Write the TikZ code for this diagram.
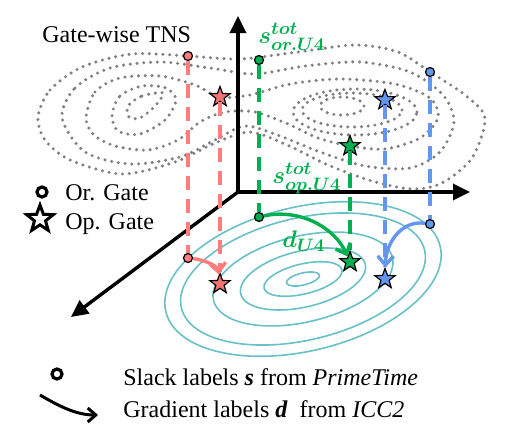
\documentclass[tikz,border=0pt]{standalone}
\usepackage{fontspec}
\setmainfont{Liberation Serif}
\usepackage{amsmath}
\usepackage{bm}
\usetikzlibrary{arrows.meta,shapes.geometric,positioning}
\definecolor{gsred}{RGB}{255,125,125}
\definecolor{gsredfill}{RGB}{242,115,115}
\definecolor{gsgreen}{RGB}{0,176,80}
\definecolor{gsblue}{RGB}{100,150,238}
\definecolor{gsteal}{RGB}{105,192,198}
\definecolor{gsgray}{RGB}{128,128,128}
\tikzset{
  orgate/.style={circle, draw=black, line width=0.6pt, inner sep=0pt, minimum size=4.5pt},
  opgate/.style={star, star points=5, star point ratio=2.4, draw=black, line width=0.6pt, inner sep=0pt, minimum size=10.5pt},
  legcircle/.style={orgate, line width=1.6pt, fill=white, minimum size=5pt},
  slackline/.style={line width=1.7pt, dash pattern=on 7pt off 4.5pt},
  gradarrow/.style={line width=1.7pt, -{Straight Barb[length=4.5pt,width=8pt]}},
  axisline/.style={line width=1.7pt, -{Triangle[length=8.5pt,width=8pt]}},
  tnscontour/.style={gsgray, line width=1.7pt, line cap=round, dash pattern=on 0pt off 3.4pt},
  icccontour/.style={gsteal, line width=0.8pt},
  lbl/.style={font=\fontsize{12}{14}\selectfont, inner sep=0pt, anchor=base west},
  glbl/.style={gsgreen, font=\fontsize{12.5}{14}\selectfont, inner sep=0pt, anchor=base west}
}
\begin{document}
\begin{tikzpicture}[x=0.5pt,y=-0.5pt]
\useasboundingbox (0,0) rectangle (531,439);
% ICC2 landscape
\foreach \rx/\ry in {8.5/3,20/7.5,32/14,46/21.5,62.5/30.5,70.5/36}{
  \draw[icccontour,rotate around={13.4:(303,279)}] (303,279) ellipse [x radius=\rx pt, y radius=\ry pt];
}
% TNS landscape
\draw[tnscontour] plot[smooth cycle] coordinates {(38,117) (50,90) (82,67) (132,54) (188,56) (240,59) (298,52) (355,45) (398,52) (430,72) (465,95) (485,118) (472,158) (442,183) (412,189) (372,181) (328,165) (287,145) (250,132) (215,143) (175,162) (122,174) (70,160) (45,140)};
\draw[tnscontour] plot[smooth cycle] coordinates {(62,118) (75,88) (110,68) (160,62) (210,68) (255,74) (305,66) (360,62) (410,72) (443,95) (454,122) (440,152) (410,168) (365,166) (320,152) (280,136) (245,126) (215,140) (180,157) (130,164) (85,152)};
\draw[tnscontour] plot[smooth cycle] coordinates {(86,118) (95,92) (120,78) (160,76) (195,85) (220,97) (250,95) (290,84) (340,79) (395,84) (430,98) (438,118) (420,138) (385,149) (350,146) (318,138) (288,124) (255,112) (225,112) (200,122) (178,140) (148,150) (115,146) (94,135)};
\draw[tnscontour] plot[smooth cycle] coordinates {(112,115) (120,96) (142,86) (166,88) (176,100) (165,120) (140,134) (118,131)};
\draw[tnscontour] plot[smooth cycle] coordinates {(128,106) (142,96) (163,93) (155,106) (140,118) (129,117)};
\draw[tnscontour] (342,106) ellipse [x radius=11pt, y radius=4.5pt];
\draw[tnscontour] (352,110) ellipse [x radius=25pt, y radius=8.5pt];
\draw[tnscontour] (355,112) ellipse [x radius=31pt, y radius=11.5pt];
% axes
\coordinate (O) at (238,192);
\coordinate (zT) at (238,16);
\coordinate (xT) at (470,192);
\coordinate (yT) at (71,317);
\draw[axisline] (O) -- (zT);
\draw[axisline] (O) -- (xT);
\draw[axisline] (O) -- (yT);
% gates
\node[orgate, fill=gsred] (rctop) at (188,56) {};
\node[orgate, fill=gsred] (rcbot) at (188,258) {};
\node[opgate, fill=gsredfill] (rstop) at (220,97) {};
\node[opgate, fill=gsredfill] (rsbot) at (220,284) {};
\node[orgate, fill=gsgreen] (gctop) at (259,60) {};
\node[orgate, fill=gsgreen] (gcbot) at (259,217) {};
\node[opgate, fill=gsgreen] (gstop) at (350,146) {};
\node[opgate, fill=gsgreen] (gsbot) at (350,262) {};
\node[orgate, fill=gsblue] (bctop) at (430,72) {};
\node[orgate, fill=gsblue] (bcbot) at (430,224) {};
\node[opgate, fill=gsblue] (bstop) at (385,100) {};
\node[opgate, fill=gsblue] (bsbot) at (385,279) {};
\draw[slackline, gsred] (rctop) -- (rcbot);
\draw[slackline, gsred] (rstop) -- (rsbot);
\draw[slackline, gsgreen] (gctop) -- (gcbot);
\draw[slackline, gsgreen] (gstop) -- (gsbot);
\draw[slackline, gsblue] (bctop) -- (bcbot);
\draw[slackline, gsblue] (bstop) -- (bsbot);
\draw[gradarrow, gsred] (rcbot) .. controls (205,260) and (218,266) .. (rsbot);
\draw[gradarrow, gsgreen] (gcbot) .. controls (300,208) and (335,228) .. (gsbot);
\draw[gradarrow, gsblue] (bcbot) .. controls (402,220) and (386,242) .. (bsbot);
% labels
\node[lbl] (tns) at (42,42) {Gate-wise TNS};
\node[glbl] (sor) at (258,43) {$\bm{s}^{\bm{tot}}_{\bm{or.U4}}$};
\node[glbl] (sop) at (272,183) {$\bm{s}^{\bm{tot}}_{\bm{op.U4}}$};
\node[glbl] (dU) at (282,247) {$\bm{d}_{\bm{U4}}$};
% legend
\node[legcircle] (legor) at (42,192) {};
\node[lbl] (legortxt) at (65,200) {Or. Gate};
\node[opgate, line width=1.5pt, fill=white, minimum size=14pt] (legop) at (40,219) {};
\node[lbl] (legoptxt) at (65,229) {Op. Gate};
\node[legcircle] (legs) at (57,374) {};
\node[lbl] (legstxt) at (123,385) {Slack labels \textbf{\textit{s}} from \textit{PrimeTime}};
\coordinate (garr0) at (40,395);
\coordinate (garr1) at (98,415);
\draw[line width=1.5pt, -{Straight Barb[length=4pt,width=7pt]}] (garr0) .. controls (62,408) and (78,415) .. (garr1);
\node[lbl] (legdtxt) at (123,417) {Gradient labels \textbf{\textit{d}}\enspace from \textit{ICC2}};
\end{tikzpicture}
\end{document}
